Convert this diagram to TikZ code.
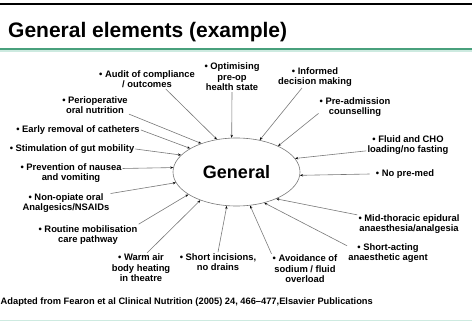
\documentclass[tikz,border=0pt]{standalone}
\usepackage{fontspec}
\setmainfont{Liberation Sans}
\usepackage{tikz}
\usetikzlibrary{shapes.geometric,arrows.meta}
\definecolor{titlegreen}{RGB}{72,160,124}
\definecolor{palemint}{RGB}{205,234,224}
\definecolor{linegray}{RGB}{120,120,120}
\newcommand{\lblfont}{\fontsize{9.4}{10.5}\selectfont\bfseries}
\tikzset{
  lbl/.style={font=\lblfont,align=center,inner sep=1pt},
  conn/.style={draw=linegray,line width=0.6pt,-{Stealth[length=3pt,width=2.4pt,black]}},
}

\begin{document}
\begin{tikzpicture}[x=1pt,y=-1pt]
  \useasboundingbox (0,0) rectangle (472,327);
  % ---- frame and title ----
  \draw[line width=2pt] (0,4) -- (472,4);
  \node[anchor=base west,inner sep=0,font=\fontsize{21}{25}\selectfont\bfseries] (title) at (8,37) {General elements (example)};
  \draw[titlegreen,line width=2pt] (0,49) -- (472,49);
  \draw[palemint,line width=1.5pt] (0,51) -- (472,51);
  \draw[palemint,line width=1pt] (0,320.5) -- (472,320.5);
  % ---- centre ----
  \node[ellipse,draw=linegray,line width=0.6pt,minimum width=127pt,minimum height=68pt,inner sep=0,
        font=\fontsize{18}{20}\selectfont\bfseries] (gen) at (236.5,172) {General};
  % ---- labels, top ----
  \node[lbl] (audit) at (147,79) {• Audit of compliance\\/ outcomes};
  \node[lbl] (optim) at (232,77) {• Optimising\\pre-op\\health state};
  \node[lbl] (informed) at (315,77) {• Informed\\decision making};
  \node[lbl] (preadm) at (355,107) {• Pre-admission\\counselling};
  % right
  \node[lbl] (fluid) at (408,145) {• Fluid and CHO\\loading/no fasting};
  \node[lbl] (nopremed) at (405,174) {• No pre-med};
  \node[lbl] (midthor) at (409,224) {• Mid-thoracic epidural\\anaesthesia/analgesia};
  \node[lbl] (shortact) at (388,253) {• Short-acting\\anaesthetic agent};
  % bottom
  \node[lbl] (avoid) at (305,269) {• Avoidance of\\sodium / fluid\\overload};
  \node[lbl] (shortinc) at (218,262) {• Short incisions,\\no drains};
  \node[lbl] (warm) at (141,268) {• Warm air\\body heating\\in theatre};
  % left
  \node[lbl] (routine) at (88,235) {• Routine mobilisation\\care pathway};
  \node[lbl] (nonopiate) at (66,203) {• Non-opiate oral\\Analgesics/NSAIDs};
  \node[lbl] (prevent) at (71,173) {• Prevention of nausea\\and vomiting};
  \node[lbl] (stim) at (72,149) {• Stimulation of gut mobility};
  \node[lbl] (early) at (78,130) {• Early removal of catheters};
  \node[lbl] (periop) at (95,105) {• Perioperative\\oral nutrition};
  % ---- connectors ----
  \draw[conn] (audit.-28) -- (gen.121);
  \draw[conn] (optim.south) -- (gen.98);
  \draw[conn] (informed.-140) -- (gen.54);
  \draw[conn] (preadm.190) -- (gen.32);
  \draw[conn] (fluid.188) -- (gen.13);
  \draw[conn] ([xshift=-5pt]nopremed.west) -- (gen.-3);
  \draw[conn] (midthor.170) -- (gen.-34);
  \draw[conn] (shortact.170) -- (gen.-48);
  \draw[conn] (avoid.north west) -- (gen.-68);
  \draw[conn] (shortinc.north) -- (gen.-106);
  \draw[conn] (warm.68) -- (gen.218);
  \draw[conn] (routine.north east) -- (gen.205);
  \draw[conn] (nonopiate.12) -- (gen.190);
  \draw[conn] (prevent.5) -- (gen.176);
  \draw[conn] (stim.east) -- (gen.163);
  \draw[conn] (early.east) -- (gen.153);
  \draw[conn] (periop.-15) -- (gen.141);
  % ---- source ----
  \node[anchor=west,inner sep=0,font=\fontsize{9.3}{10}\selectfont\bfseries] (source) at (0.5,302)
    {Adapted from Fearon et al Clinical Nutrition (2005) 24, 466–477,Elsavier Publications};
\end{tikzpicture}
\end{document}
